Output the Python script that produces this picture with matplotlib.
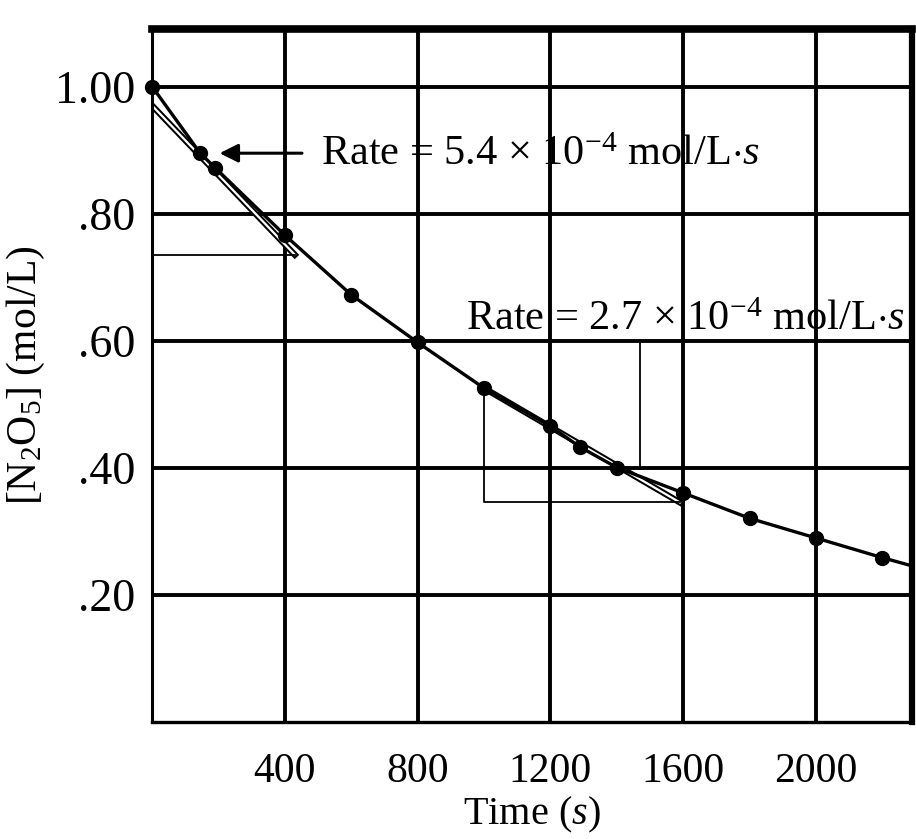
import numpy as np
import matplotlib
matplotlib.use("Agg")
from matplotlib import pyplot as plt
import matplotlib.patheffects as pe

plt.rcParams['font.family'] = ['Liberation Serif', 'DejaVu Serif']
plt.rcParams['mathtext.fontset'] = 'custom'
plt.rcParams['mathtext.rm'] = 'Liberation Serif'
plt.rcParams['mathtext.it'] = 'Liberation Serif:italic'

# Data
times = [0, 145, 190, 400, 600, 800, 1000, 1200, 1290, 1400, 1600, 1800, 2000, 2200]
conc = [1.00, 0.895, 0.872, 0.766, 0.672, 0.597, 0.525, 0.465, 0.432, 0.400, 0.360, 0.320, 0.289, 0.258]
curve_end = (2290, 0.245)

# tangent lines (time, conc) and their triangles
tan1_t = [0, 430]
tan1_c = [0.970, 0.735]
tan2_t = [1000, 1590]
tan2_c = [0.525, 0.345]
mark_t = 1470
mark_c = [0.600, 0.398]

xticks = [400, 800, 1200, 1600, 2000]
yticks = [0.20, 0.40, 0.60, 0.80, 1.00]
ytick_labels = ['.20', '.40', '.60', '.80', '1.00']

fig = plt.figure(figsize=(9.16, 8.39), dpi=100)
ax = fig.add_axes([0.166, 0.14, 0.83, 0.825])

# grid
for xv in xticks:
    ax.axvline(xv, color='black', lw=2.8, zorder=1)
for yv in yticks:
    ax.axhline(yv, color='black', lw=2.8, zorder=1)

# tangent lines, drawn as outlined (hollow) lines
hollow = [pe.Stroke(linewidth=4.5, foreground='black'), pe.Normal()]
ax.plot(tan1_t, tan1_c, color='white', lw=1.6, path_effects=hollow, zorder=2)
ax.plot(tan2_t, tan2_c, color='white', lw=1.6, path_effects=hollow, zorder=2)

# triangles
ax.plot([0, tan1_t[1]], [tan1_c[1], tan1_c[1]], color='black', lw=1.3, zorder=2)
ax.plot([tan2_t[0], tan2_t[0], tan2_t[1]], [tan2_c[0], tan2_c[1], tan2_c[1]],
        color='black', lw=1.3, zorder=2)
ax.plot([mark_t, mark_t], mark_c, color='black', lw=1.3, zorder=2)

# data curve and points
ax.plot(times + [curve_end[0]], conc + [curve_end[1]], color='black', lw=2.4, zorder=3)
ax.plot(times, conc, 'o', color='black', ms=10, zorder=4, clip_on=False)

# annotations
ax.annotate('', xy=(195, 0.895), xytext=(460, 0.895),
            arrowprops=dict(arrowstyle='-|>', color='black', lw=2.2,
                            mutation_scale=28), zorder=5)
ax.text(510, 0.893, r'Rate = 5.4 $\times$ 10$^{-4}$ mol/L$\cdot$$s$',
        fontsize=30.5, va='center', ha='left', zorder=5)
ax.text(945, 0.632, r'Rate = 2.7 $\times$ 10$^{-4}$ mol/L$\cdot$$s$',
        fontsize=30.5, va='center', ha='left', zorder=5)

ax.set_xlim(0, 2290)
ax.set_ylim(0, 1.09)
ax.set_xticks(xticks)
ax.set_xticklabels([str(v) for v in xticks])
ax.set_yticks(yticks)
ax.set_yticklabels(ytick_labels)
ax.tick_params(axis='both', length=0)
ax.tick_params(axis='x', pad=22, labelsize=30)
ax.tick_params(axis='y', pad=12, labelsize=33)

for side, w in [('left', 2.2), ('bottom', 2.4), ('top', 5.5), ('right', 4.5)]:
    ax.spines[side].set_linewidth(w)

ax.set_xlabel(r'Time ($s$)', fontsize=29, labelpad=3)
ax.set_ylabel(r'[N$_2$O$_5$] (mol/L)', fontsize=30, labelpad=6)

fig.savefig('out.png', dpi=100)
